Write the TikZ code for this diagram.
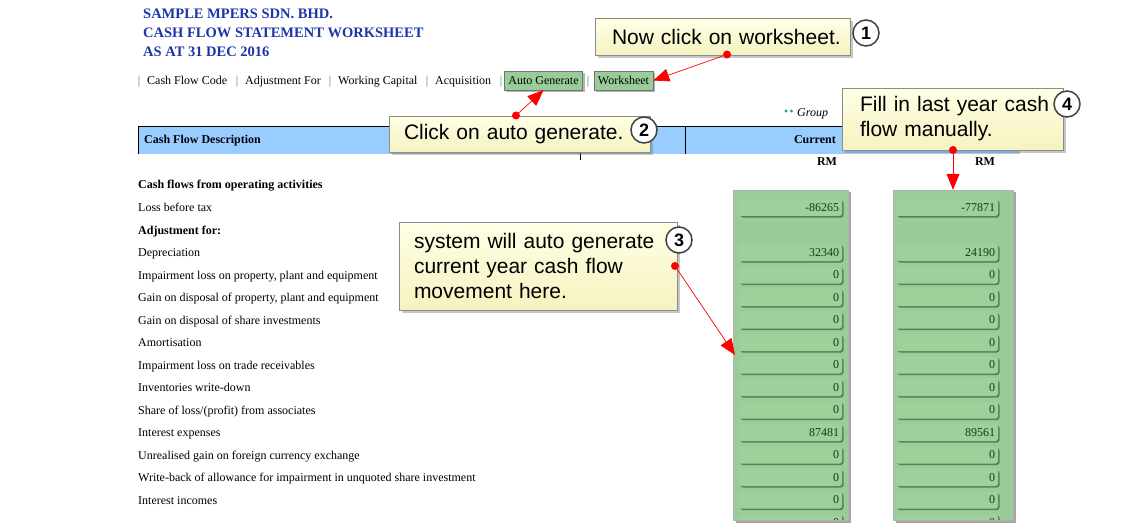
\documentclass[tikz,border=0pt]{standalone}
\usepackage{fontspec}
\setmainfont{Liberation Serif}
\newfontfamily\callfont{Liberation Sans}
\usetikzlibrary{arrows.meta,shadows,positioning}
\definecolor{titleblue}{RGB}{28,52,168}
\definecolor{pipegreen}{RGB}{40,140,110}
\definecolor{hdrblue}{RGB}{153,204,255}
\definecolor{panelgreen}{RGB}{153,204,153}
\definecolor{boxgreen}{RGB}{158,208,156}
\definecolor{boxshade}{RGB}{70,110,70}
\definecolor{valgreen}{RGB}{20,60,20}
\definecolor{calltop}{RGB}{255,255,230}
\definecolor{callbot}{RGB}{246,242,192}
\definecolor{dotteal}{RGB}{40,150,150}

\begin{document}
\begin{tikzpicture}[x=1pt,y=-1pt,
  title/.style={anchor=base west,inner sep=0,text=titleblue,font=\fontsize{14.5}{16}\selectfont\bfseries},
  menu/.style={anchor=base west,inner sep=0,font=\fontsize{12}{14}\selectfont},
  bar/.style={anchor=base,inner sep=0,text=pipegreen,font=\fontsize{12}{14}\selectfont},
  btn/.style={draw=black!55,fill=panelgreen,inner xsep=4pt,inner ysep=0,minimum height=19pt,font=\fontsize{12}{14}\selectfont,drop shadow={shadow xshift=2pt,shadow yshift=-2pt,opacity=.6}},
  rowlabel/.style={anchor=base west,inner sep=0,font=\fontsize{12}{14}\selectfont},
  head/.style={inner sep=0,font=\fontsize{12}{14}\selectfont\bfseries},
  panel/.style={fill=panelgreen,draw=black!30,drop shadow={shadow xshift=2.5pt,shadow yshift=-2.5pt,opacity=.7}},
  valbox/.style={fill=boxgreen,rounded corners=2.5pt,inner xsep=3pt,inner ysep=0,minimum height=17pt,align=right,text=valgreen,font=\fontsize{12}{14}\selectfont,drop shadow={shadow xshift=1.5pt,shadow yshift=-1.5pt,fill=boxshade,opacity=.8}},
  callout/.style={draw=black!45,top color=calltop,bottom color=callbot,inner sep=0,align=left,font=\callfont\fontsize{21}{25}\selectfont,drop shadow={shadow xshift=3pt,shadow yshift=-3pt,opacity=.45}},
  num/.style={circle,draw=black!75,line width=1.5pt,fill=white,inner sep=0,minimum size=26pt,font=\callfont\fontsize{18}{18}\selectfont\bfseries},
  dot/.style={circle,fill=red,inner sep=0,minimum size=8pt},
  pointer/.style={red,line width=.7pt,-{Triangle[length=16pt,width=13pt]}}]
  \useasboundingbox (0,0) rectangle (1136,532);

  \node[title] (t1) at (143,19) {SAMPLE MPERS SDN. BHD.};
  \node[title] (t2) at (143,38) {CASH FLOW STATEMENT WORKSHEET};
  \node[title] (t3) at (143,57) {AS AT 31 DEC 2016};

  \foreach \x in {139,237,330,427,501,588}
    \node[bar] (bar\x) at (\x,85) {|};
  \foreach \x/\t/\n in {147/Cash Flow Code/m1, 245/Adjustment For/m2, 338/Working Capital/m3, 435/Acquisition/m4}
    \node[menu] (\n) at (\x,85) {\t};
  \node[btn] (ag) at (543.5,80.5) {Auto Generate};
  \node[btn] (ws) at (623.5,80.5) {Worksheet};

  \fill[dotteal] (786,111) circle (1.6) (791.5,111) circle (1.6);
  \node[inner sep=0,anchor=base west,font=\fontsize{12}{14}\selectfont\itshape] (grp) at (797,117) {Group};

  \fill[hdrblue] (138,126) rectangle (1020,154);
  \draw[line width=.9pt] (138,154) -- (138,126) -- (1020,126);
  \draw[line width=.9pt] (580,126) -- (580,160) (685,126) -- (685,154);
  \node[head,anchor=base west] (hd) at (144,144) {Cash Flow Description};
  \node[head,anchor=base east] (cu) at (836,144) {Current};
  \node[head,anchor=base] (rm1) at (827,166) {RM};
  \node[head,anchor=base] (rm2) at (985,166) {RM};

  \foreach \i/\t in {0/{\bfseries Cash flows from operating activities}, 1/Loss before tax, 2/{\bfseries Adjustment for:}, 3/Depreciation, 4/{Impairment loss on property, plant and equipment}, 5/{Gain on disposal of property, plant and equipment}, 6/Gain on disposal of share investments, 7/Amortisation, 8/Impairment loss on trade receivables, 9/Inventories write-down, 10/{Share of loss/(profit) from associates}, 11/Interest expenses, 12/Unrealised gain on foreign currency exchange, 13/Write-back of allowance for impairment in unquoted share investment, 14/Interest incomes}
    \node[rowlabel] (r\i) at (138,189+22.5*\i) {\t};

  \node[panel,minimum width=115pt,minimum height=330pt] (pcur) at (790.5,355) {};
  \node[panel,minimum width=120pt,minimum height=330pt] (pprev) at (953,355) {};
  \foreach \i/\a/\b in {1/-86265/-77871, 3/32340/24190, 4/0/0, 5/0/0, 6/0/0, 7/0/0, 8/0/0, 9/0/0, 10/0/0, 11/87481/89561, 12/0/0, 13/0/0, 14/0/0}
  {
    \node[valbox,text width=97pt] (cur\i) at (790.5,185+22.5*\i) {\a};
    \node[valbox,text width=96pt] (prev\i) at (947,185+22.5*\i) {\b};
  }
  \begin{scope}
    \clip (700,500) rectangle (1030,519.5);
    \node[valbox,text width=97pt] (cur15) at (790.5,522.5) {0};
    \node[valbox,text width=96pt] (prev15) at (947,522.5) {0};
  \end{scope}

  \node[callout,minimum width=255pt,minimum height=37pt,text width=221pt] (c1) at (722.5,36.5) {\mbox{Now click on worksheet.}};
  \node[callout,minimum width=261pt,minimum height=36pt,text width=231pt] (c2) at (519.5,134) {\mbox{Click on auto generate.}};
  \node[callout,minimum width=278pt,minimum height=88pt,text width=248pt] (c3) at (538,266) {\mbox{system will auto generate}\\current year cash flow\\movement here.};
  \node[callout,minimum width=221pt,minimum height=62pt,text width=185pt] (c4) at (952.5,119) {\mbox{Fill in last year cash}\\flow manually.};

  \node[dot] (d1) at (727,54.5) {};
  \node[dot] (d2) at (516,115.5) {};
  \node[dot] (d3) at (675,266) {};
  \node[dot] (d4) at (953,150) {};
  \coordinate (t3p) at (735,355);
  \draw[pointer] (d1) -- (ws.east);
  \draw[pointer] (d2) -- (ag.south);
  \draw[pointer] (d3) -- (t3p);
  \draw[pointer] (d4) -- (pprev.north);

  \node[num] (n1) at (866,33) {1};
  \node[num] (n2) at (644,130) {2};
  \node[num] (n3) at (679,240) {3};
  \node[num] (n4) at (1067,104) {4};
\end{tikzpicture}
\end{document}
